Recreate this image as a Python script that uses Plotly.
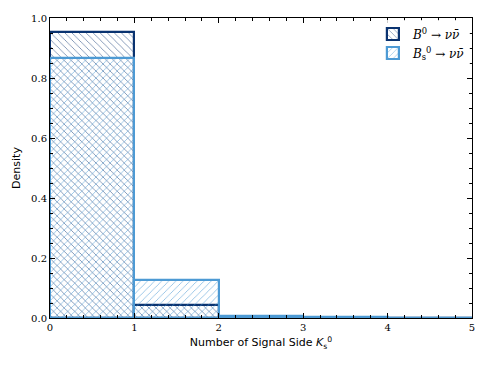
import plotly.graph_objects as go

# histogram bins (edges 0..5) and normalised densities
bin_centers = [0.5, 1.5, 2.5, 3.5, 4.5]
b0_density = [0.952, 0.045, 0.002, 0.0006, 0.0001]
bs_density = [0.866, 0.127, 0.006, 0.002, 0.0005]

dark = "#0a3370"
light = "#4d9ad4"

fig = go.Figure()
fig.add_trace(go.Bar(
    x=bin_centers, y=b0_density, width=1,
    name="<i>B</i><sup>0</sup> → <i>νν̄</i>",
    marker=dict(color="rgba(0,0,0,0)", line=dict(color=dark, width=2.2),
                pattern=dict(shape="\\", fgcolor=dark, size=5, solidity=0.12, fgopacity=0.8)),
))
fig.add_trace(go.Bar(
    x=bin_centers, y=bs_density, width=1,
    name="<i>B</i><sub>s</sub><sup>0</sup> → <i>νν̄</i>",
    marker=dict(color="rgba(0,0,0,0)", line=dict(color=light, width=2.2),
                pattern=dict(shape="/", fgcolor=light, size=5, solidity=0.12, fgopacity=0.9)),
))

axis_common = dict(
    showline=True, linecolor="black", linewidth=1, mirror="ticks",
    ticks="inside", ticklen=5, tickcolor="black", showgrid=False, zeroline=False,
    automargin=False,
    tickfont=dict(family="DejaVu Serif", size=10, color="black"),
)
fig.update_xaxes(range=[0, 5], dtick=1, tick0=0,
                 minor=dict(ticks="inside", ticklen=3, dtick=0.2, tickcolor="black"),
                 title=dict(text="Number of Signal Side <i>K</i><sub>s</sub><sup>0</sup>",
                            font=dict(family="DejaVu Sans", size=11, color="black"), standoff=6),
                 **axis_common)
fig.update_yaxes(range=[0, 1.0], dtick=0.2, tick0=0, tickformat=".1f",
                 minor=dict(ticks="inside", ticklen=3, dtick=0.05, tickcolor="black"),
                 title=dict(text="Density",
                            font=dict(family="DejaVu Sans", size=11, color="black"), standoff=8),
                 **axis_common)

# page body has an 8px margin, so the figure is sized to fit inside the window
fig.update_layout(
    width=480, height=358,
    margin=dict(l=42, r=16, t=10, b=48),
    barmode="overlay", bargap=0,
    plot_bgcolor="white", paper_bgcolor="white",
    legend=dict(x=0.995, y=0.995, xanchor="right", yanchor="top",
                bgcolor="rgba(255,255,255,0.8)",
                font=dict(family="DejaVu Serif", size=12, color="black"),
                tracegroupgap=0, itemwidth=30),
)

fig.write_html("out.html")
